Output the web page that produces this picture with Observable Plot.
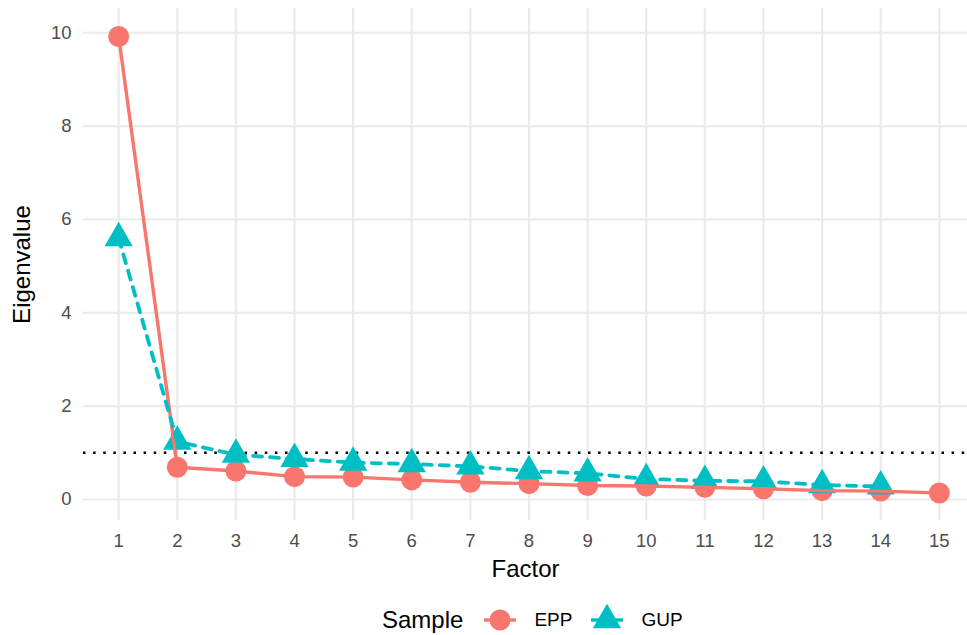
<!DOCTYPE html>
<html>
<head>
<meta charset="utf-8">
<script src="https://cdn.jsdelivr.net/npm/d3@7"></script>
<script src="https://cdn.jsdelivr.net/npm/@observablehq/plot@0.6"></script>
<style>
  html, body { margin: 0; padding: 0; background: #fff; overflow: hidden; }
  #chart svg { overflow: hidden; display: block; }
  .legend { display: flex; align-items: center; justify-content: flex-start; height: 50px; font-family: "Liberation Sans", Arial, Helvetica, sans-serif; color: #000; }
  .legend .title { font-size: 24px; margin-left: 382px; margin-right: 21px; }
  .legend .lab { font-size: 19px; margin-left: 18px; margin-right: 19px; }
  .legend svg { display: block; }
</style>
</head>
<body>
<div id="chart"></div>
<div class="legend" id="legend"></div>
<script>
// ---- data ----
const factors = [1, 2, 3, 4, 5, 6, 7, 8, 9, 10, 11, 12, 13, 14, 15];
const eppValues = [9.92, 0.69, 0.61, 0.49, 0.48, 0.42, 0.37, 0.34, 0.30, 0.29, 0.26, 0.23, 0.19, 0.18, 0.14];
const gupValues = [5.60, 1.24, 0.96, 0.87, 0.79, 0.76, 0.71, 0.61, 0.56, 0.44, 0.40, 0.39, 0.31, 0.28];
const samples = ["EPP", "GUP"];
const colors = ["#F8766D", "#00BFC4"];
const yTicks = [0, 2, 4, 6, 8, 10];
const kaiserLine = [1];
const xTitle = "Factor";
const yTitle = "Eigenvalue";
const legendTitle = "Sample";

const epp = eppValues.map((v, i) => ({factor: factors[i], value: v, sample: "EPP"}));
const gup = gupValues.map((v, i) => ({factor: factors[i], value: v, sample: "GUP"}));

const font = '"Liberation Sans", Arial, Helvetica, sans-serif';

const chart = Plot.plot({
  width: 967,
  height: 595,
  marginTop: 8,
  marginBottom: 75,
  marginLeft: 83,
  marginRight: 0,
  style: {fontFamily: font, fontSize: "18.5px", background: "#fff"},
  x: {domain: [0.4, 15.6], range: [83, 974]},
  y: {domain: [-0.45, 10.52]},
  marks: [
    Plot.gridX(factors, {stroke: "#EBEBEB", strokeOpacity: 1, strokeWidth: 2.2}),
    Plot.gridY(yTicks, {stroke: "#EBEBEB", strokeOpacity: 1, strokeWidth: 2.2}),
    Plot.axisY(yTicks, {tickSize: 0, tickPadding: 12, color: "#4D4D4D", label: null, fontSize: 18.5}),
    Plot.axisX(factors, {tickSize: 0, tickPadding: 13, color: "#4D4D4D", label: null, fontSize: 18.5}),
    Plot.ruleY(kaiserLine, {stroke: "#000", strokeWidth: 2.5, strokeDasharray: "2.5,7.6"}),
    Plot.dot(epp, {x: "factor", y: "value", r: 10.5, fill: colors[0], symbol: "circle"}),
    Plot.dot(gup, {x: "factor", y: "value", r: 10.5, fill: colors[1], symbol: "triangle"}),
    Plot.line(epp, {x: "factor", y: "value", stroke: colors[0], strokeWidth: 3.4}),
    Plot.line(gup, {x: "factor", y: "value", stroke: colors[1], strokeWidth: 3.8, strokeDasharray: "9,8"}),
    Plot.text([xTitle], {frameAnchor: "bottom", lineAnchor: "middle", textAnchor: "middle", dy: 49, fontSize: 24, fill: "#000"}),
    Plot.text([yTitle], {frameAnchor: "left", lineAnchor: "middle", textAnchor: "middle", dx: -61, rotate: -90, fontSize: 24, fill: "#000"})
  ]
});
document.getElementById("chart").appendChild(chart);

// ---- legend ----
const legend = document.getElementById("legend");
const t = document.createElement("span");
t.className = "title";
t.textContent = legendTitle;
legend.appendChild(t);
const symbols = [d3.symbolCircle, d3.symbolTriangle];
samples.forEach((s, i) => {
  const svg = d3.create("svg").attr("width", 32).attr("height", 32);
  svg.append("path")
    .attr("d", d3.symbol(symbols[i], Math.PI * 10.5 * 10.5)())
    .attr("transform", "translate(16,16)")
    .attr("fill", colors[i]);
  svg.append("line").attr("x1", 0).attr("x2", 32).attr("y1", 16).attr("y2", 16)
    .attr("stroke", colors[i]).attr("stroke-width", 3.4);
  legend.appendChild(svg.node());
  const l = document.createElement("span");
  l.className = "lab";
  l.textContent = s;
  legend.appendChild(l);
});
</script>
</body>
</html>
